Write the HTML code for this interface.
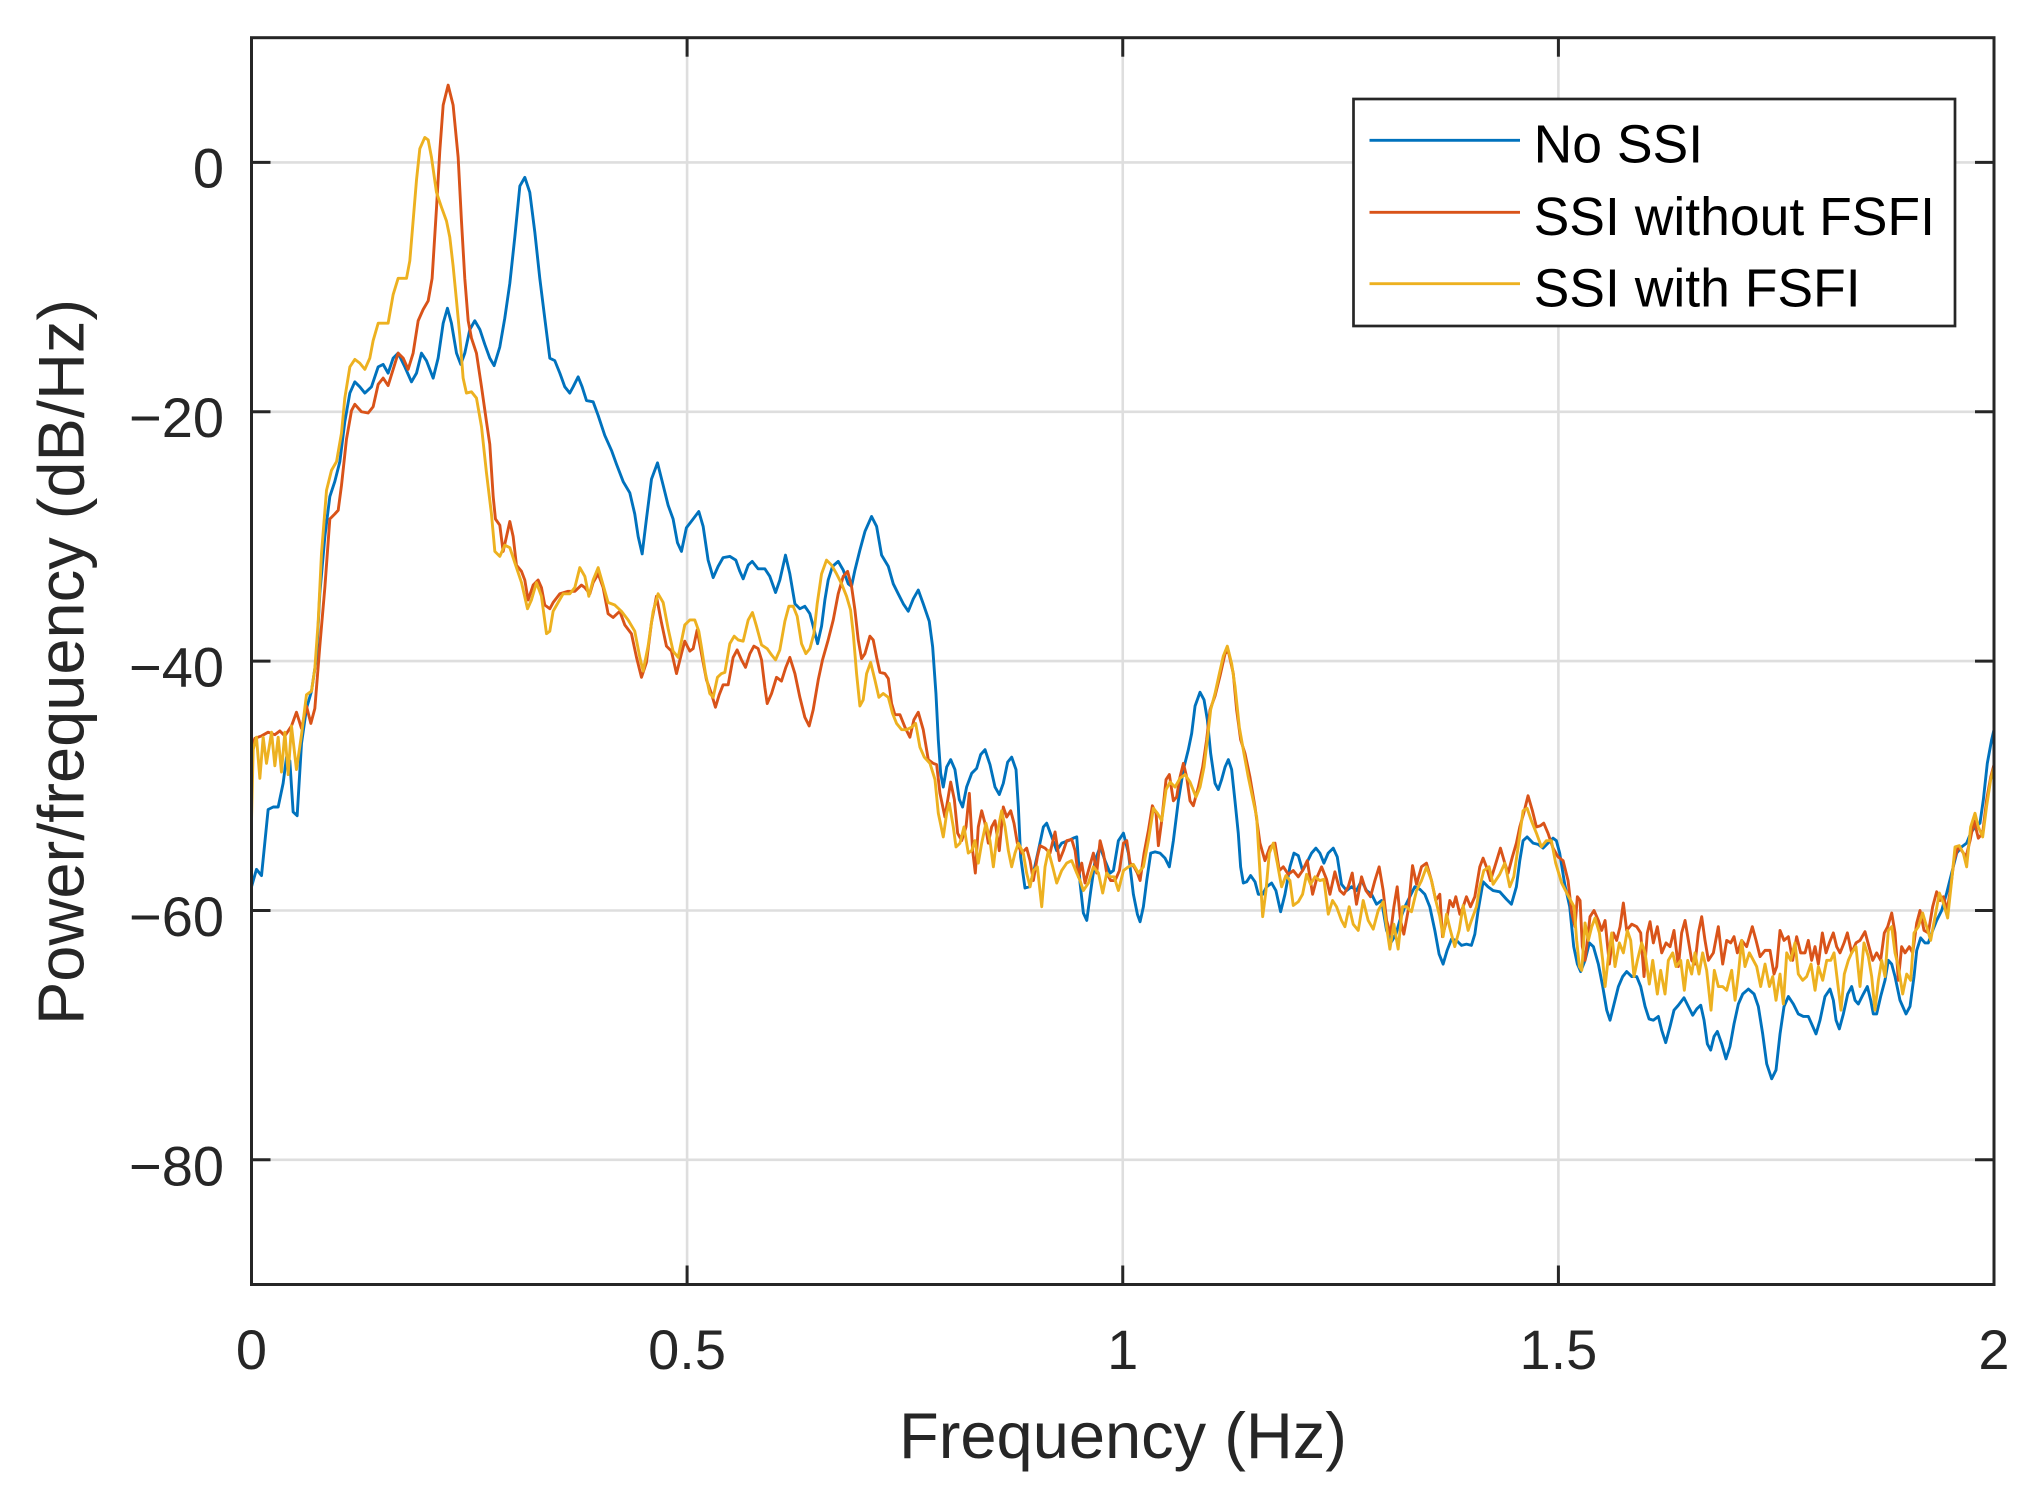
<!DOCTYPE html>
<html>
<head>
<meta charset="utf-8">
<style>
html,body{margin:0;padding:0;background:#fff;}
svg{display:block;}
text{font-family:"Liberation Sans",Arial,Helvetica,sans-serif;}
</style>
</head>
<body>
<svg width="2041" height="1503" viewBox="0 0 2041 1503" xmlns="http://www.w3.org/2000/svg">
<rect x="0" y="0" width="2041" height="1503" fill="#fff"/>
<defs>
<clipPath id="pa"><rect x="251.5" y="37.7" width="1742.5" height="1246.8"/></clipPath>
</defs>
<!-- grid -->
<g stroke="#dedede" stroke-width="2.6" fill="none">
<line x1="687.1" y1="37.7" x2="687.1" y2="1284.5"/>
<line x1="1122.75" y1="37.7" x2="1122.75" y2="1284.5"/>
<line x1="1558.4" y1="37.7" x2="1558.4" y2="1284.5"/>
<line x1="251.5" y1="162.4" x2="1994" y2="162.4"/>
<line x1="251.5" y1="411.8" x2="1994" y2="411.8"/>
<line x1="251.5" y1="661.1" x2="1994" y2="661.1"/>
<line x1="251.5" y1="910.5" x2="1994" y2="910.5"/>
<line x1="251.5" y1="1159.8" x2="1994" y2="1159.8"/>
</g>
<!-- data -->
<g clip-path="url(#pa)">
<g transform="matrix(871.25,0,0,-12.468,251.5,162.4)" fill="none" stroke-linejoin="round" stroke-linecap="round">
<polyline vector-effect="non-scaling-stroke" stroke="#0072BD" stroke-width="2.9" points="0,-58.1 .0057,-56.7 .0115,-57.2 .0191,-51.9 .0249,-51.7 .0306,-51.7 .0363,-49.8 .0402,-47.7 .044,-48 .0478,-52.1 .0524,-52.4 .0574,-46.6 .0631,-43.8 .0689,-42.4 .0746,-39.7 .0784,-34.6 .0842,-30 .0899,-26.8 .0956,-25.6 .1014,-24 .1071,-20.8 .1129,-18.5 .1186,-17.6 .1243,-18 .1301,-18.5 .1377,-18 .1454,-16.4 .1511,-16.2 .1568,-16.9 .1626,-15.7 .1683,-15.3 .176,-16.4 .1836,-17.6 .1894,-16.9 .1951,-15.3 .2008,-15.9 .2085,-17.3 .2142,-15.7 .22,-12.9 .2249,-11.7 .2295,-12.9 .2353,-15.3 .2402,-16.2 .2448,-15.3 .2506,-13.4 .2563,-12.7 .2621,-13.4 .2678,-14.6 .2735,-15.7 .2785,-16.3 .285,-14.8 .2907,-12.5 .2965,-9.7 .3022,-6 .308,-1.9 .3137,-1.2 .3194,-2.4 .3252,-5.6 .3309,-9.3 .3366,-12.5 .3424,-15.7 .3481,-15.9 .3539,-16.9 .3596,-18 .3653,-18.5 .3692,-18 .3749,-17.2 .3795,-18 .3845,-19.1 .3921,-19.2 .3979,-20.3 .4055,-21.9 .4132,-23.1 .4189,-24.2 .4266,-25.6 .4342,-26.5 .4399,-28.2 .4438,-30 .4484,-31.4 .4533,-28.6 .4591,-25.4 .466,-24.1 .4725,-25.9 .4782,-27.5 .4839,-28.6 .4889,-30.5 .4935,-31.2 .4992,-29.3 .5069,-28.6 .5134,-28 .5184,-29.2 .5241,-31.9 .5299,-33.3 .5356,-32.4 .5413,-31.7 .549,-31.6 .5559,-31.9 .5605,-32.8 .5643,-33.4 .5701,-32.3 .5747,-32 .5815,-32.6 .5892,-32.6 .5949,-33.2 .6015,-34.5 .6064,-33.5 .6129,-31.5 .6179,-33 .6237,-35.4 .6294,-35.8 .6351,-35.6 .6409,-36.2 .6447,-37.2 .6497,-38.6 .6543,-37.2 .6581,-35.1 .6619,-33.5 .6669,-32.4 .6734,-32 .6792,-32.7 .6849,-33.8 .6887,-34 .6926,-32.7 .6983,-31.1 .7041,-29.6 .7117,-28.4 .7175,-29.2 .7232,-31.5 .7309,-32.4 .7366,-33.8 .7423,-34.6 .7481,-35.4 .7538,-36 .7596,-35 .7653,-34.3 .771,-35.4 .7779,-36.8 .7818,-38.85 .7856,-42.6 .7883,-46.3 .791,-49 .794,-50.1 .7979,-48.5 .8025,-47.9 .8074,-48.7 .8124,-51.1 .8162,-51.7 .8208,-50.1 .8266,-49 .8323,-48.6 .8369,-47.5 .8419,-47.1 .8476,-48.3 .8534,-50.1 .8583,-50.7 .8629,-49.8 .8679,-48.1 .8725,-47.7 .8775,-48.7 .8802,-51.7 .8828,-55.7 .8878,-58.2 .8928,-58.1 .8974,-57 .9031,-55.2 .9089,-53.3 .9127,-53 .9185,-54.1 .9242,-55.2 .9299,-54.6 .9376,-54.4 .9433,-54.2 .9472,-54.1 .951,-57.8 .9548,-60.2 .9587,-60.8 .9633,-58.4 .9682,-56 .974,-54.9 .9797,-56 .9855,-57 .9893,-56.8 .995,-54.4 1.0008,-53.8 1.0065,-55.4 1.0122,-58.7 1.0168,-60.3 1.0199,-60.9 1.0237,-59.7 1.0275,-57.6 1.0321,-55.4 1.0371,-55.3 1.0428,-55.4 1.0485,-55.8 1.0535,-56.5 1.0581,-54.4 1.0638,-51.2 1.0696,-48.7 1.0753,-47.1 1.0791,-45.8 1.083,-43.6 1.0887,-42.5 1.0933,-43.1 1.0971,-44.7 1.1009,-47.4 1.1059,-49.8 1.1097,-50.3 1.1135,-49.5 1.1174,-48.5 1.1212,-47.9 1.125,-48.7 1.1288,-51.2 1.1326,-53.8 1.1353,-56.5 1.1384,-57.8 1.1422,-57.7 1.1468,-57.2 1.1518,-57.7 1.1556,-58.7 1.1606,-58.7 1.1651,-58.1 1.1709,-57.8 1.1758,-58.4 1.1812,-60.1 1.1862,-58.7 1.1919,-56.5 1.1965,-55.4 1.2015,-55.6 1.2064,-56.8 1.211,-56.2 1.2167,-55.4 1.2217,-55 1.2263,-55.4 1.2309,-56.2 1.2358,-55.4 1.2416,-55 1.2462,-55.7 1.2511,-57.9 1.2569,-58.4 1.2626,-58.1 1.2683,-58.4 1.2741,-57.6 1.2798,-58.4 1.2856,-58.7 1.2913,-59.5 1.297,-59.2 1.3028,-61.6 1.3085,-62.5 1.3135,-61.9 1.318,-60.8 1.3238,-59.7 1.3295,-58.9 1.3352,-58.1 1.341,-58.3 1.3467,-58.7 1.3524,-59.7 1.3582,-61.6 1.3631,-63.5 1.3677,-64.3 1.3723,-63.2 1.3773,-62.3 1.383,-62.4 1.3888,-62.8 1.3945,-62.7 1.4002,-62.8 1.4041,-61.9 1.4079,-60 1.4136,-57.7 1.4193,-58.1 1.4251,-58.4 1.4327,-58.5 1.4404,-59.1 1.4461,-59.5 1.4518,-58.1 1.4557,-56 1.4595,-54.4 1.4641,-54.1 1.471,-54.6 1.4767,-54.7 1.4824,-55 1.4881,-54.6 1.4939,-54.2 1.4977,-54.4 1.5015,-55.4 1.5073,-57.9 1.513,-59.7 1.5176,-62.9 1.5218,-64.3 1.5256,-64.9 1.5306,-64 1.5356,-62.6 1.5402,-62.9 1.5459,-64.3 1.5509,-66.1 1.5555,-68 1.5593,-68.8 1.5639,-67.5 1.5689,-66.1 1.5738,-65.3 1.5784,-64.9 1.5842,-65.3 1.5899,-65.3 1.5945,-66.1 1.5995,-67.7 1.6041,-68.7 1.609,-68.8 1.6148,-68.5 1.6186,-69.6 1.6232,-70.6 1.6282,-69.3 1.6327,-68 1.6377,-67.6 1.6442,-67 1.6492,-67.7 1.6542,-68.4 1.6588,-67.9 1.6634,-67.6 1.6672,-68.8 1.671,-70.7 1.6748,-71.2 1.6787,-70.1 1.6825,-69.7 1.6875,-70.7 1.6924,-71.9 1.697,-70.9 1.7016,-69.1 1.7066,-67.5 1.7116,-66.7 1.7181,-66.3 1.7246,-66.7 1.7295,-67.7 1.7345,-69.9 1.7391,-72.3 1.7448,-73.5 1.7498,-72.8 1.7544,-69.9 1.759,-67.7 1.764,-66.9 1.7697,-67.5 1.7754,-68.3 1.7812,-68.5 1.7869,-68.5 1.7907,-69.1 1.7957,-69.9 1.8003,-68.8 1.806,-66.9 1.8118,-66.3 1.8156,-67.2 1.8187,-68.8 1.8225,-69.5 1.8271,-68.3 1.8321,-66.7 1.8366,-66.1 1.8405,-67.2 1.8443,-67.5 1.85,-66.7 1.8546,-66.1 1.8585,-67.2 1.8615,-68.3 1.8653,-68.3 1.8699,-66.9 1.8749,-65.6 1.8787,-64 1.8826,-64.3 1.8864,-65.3 1.8921,-67.2 1.899,-68.3 1.9036,-67.7 1.9082,-65.3 1.9113,-63.2 1.9158,-62.2 1.9208,-62.6 1.9246,-62.6 1.9285,-61.8 1.9342,-60.8 1.9399,-60 1.9457,-58.6 1.9514,-57 1.9572,-55.4 1.9629,-54.9 1.9686,-54.6 1.9732,-53.8 1.9782,-53.3 1.9839,-53 1.9878,-51.1 1.9923,-48.2 1.9973,-46.3 2,-45.5"/>
<polyline vector-effect="non-scaling-stroke" stroke="#D95319" stroke-width="2.9" points="0,-47.1 .0038,-46.2 .0115,-46 .0191,-45.7 .0268,-45.9 .0325,-45.6 .0383,-46 .0459,-45.2 .0516,-44.1 .0574,-45.4 .0631,-43.6 .0681,-45 .0727,-43.8 .0784,-38.8 .0842,-34.1 .0899,-28.6 .0956,-28.2 .0995,-27.9 .1033,-25.9 .109,-22.2 .1148,-19.9 .1186,-19.4 .1262,-20 .1339,-20.1 .1396,-19.6 .1454,-17.8 .1511,-17.3 .1568,-17.9 .1626,-16.6 .1683,-15.3 .1741,-15.7 .1798,-16.6 .1855,-15.3 .1913,-12.7 .197,-11.8 .2028,-11.1 .2073,-9.3 .2123,-3.7 .2161,.9 .22,4.6 .2257,6.2 .2314,4.6 .2372,.4 .241,-4.7 .2448,-9.3 .2487,-12.7 .2525,-14.1 .2582,-15.3 .264,-18 .2697,-20.8 .2735,-22.6 .2774,-26.8 .28,-28.6 .285,-29.1 .2888,-31.2 .2927,-30 .2965,-28.8 .3003,-30 .3041,-32.3 .3099,-32.8 .3137,-33.5 .3175,-35.1 .3233,-33.9 .329,-33.5 .3328,-34.1 .3366,-35.5 .3424,-35.8 .3462,-35.3 .3539,-34.6 .3634,-34.4 .3711,-34.4 .3787,-33.9 .3826,-34.1 .3883,-34.6 .3921,-33.7 .3979,-33 .4036,-34.1 .4093,-36.2 .4151,-36.5 .4227,-36 .4285,-37.1 .4361,-37.8 .4419,-39.7 .4476,-41.3 .4533,-40.1 .4591,-36.9 .4648,-34.8 .4705,-36.9 .4763,-38.8 .482,-39.2 .4878,-41 .4935,-39.4 .4973,-38.4 .5031,-39.2 .5069,-39 .5115,-37.5 .5165,-39.4 .5222,-41.5 .5279,-42.6 .5325,-43.7 .5368,-42.7 .5413,-41.9 .5471,-41.9 .5528,-39.7 .5574,-39.1 .5624,-39.9 .567,-40.5 .572,-39.4 .5766,-38.8 .5815,-39 .5854,-39.9 .5892,-42.1 .5919,-43.4 .5969,-42.6 .6026,-41.3 .6083,-41.6 .6133,-40.5 .6179,-39.7 .6237,-41 .6294,-42.9 .6351,-44.5 .6401,-45.2 .6447,-43.9 .6505,-41.5 .6554,-39.9 .6619,-38.3 .6677,-36.7 .6734,-34.6 .6792,-33.2 .6842,-32.8 .6887,-34 .6926,-35.9 .6964,-38.3 .7002,-39.8 .7041,-39.4 .7098,-38 .7136,-38.3 .7175,-39.7 .7213,-40.9 .727,-41 .7309,-41.4 .7347,-43.4 .7385,-44.3 .7443,-44.3 .75,-45.3 .7557,-46.1 .7603,-44.7 .7653,-44.1 .771,-45.5 .7768,-47.9 .7825,-48.2 .7864,-48.3 .7902,-50.6 .7959,-52.5 .8025,-49.7 .8067,-51.1 .8105,-53.8 .8151,-54.4 .8201,-53.3 .8239,-50.6 .8277,-55.2 .8308,-57 .8342,-53.3 .8381,-52 .8419,-53 .8457,-54.6 .8495,-53.3 .8534,-52.8 .8583,-55.2 .8629,-51.7 .8668,-52.5 .8714,-52 .8752,-53 .879,-54.6 .884,-55.4 .8897,-55 .8936,-56 .8974,-57.6 .902,-55.7 .9051,-54.8 .9108,-55 .9165,-55.4 .9223,-53.7 .9273,-56 .9319,-55.2 .9357,-54.4 .9414,-54.3 .9453,-55.2 .9491,-57.3 .9529,-56.2 .9567,-57.8 .9606,-56.8 .9663,-55.4 .9701,-57 .974,-54.4 .9778,-55.4 .9816,-57 .9862,-57.6 .9912,-57.6 .9962,-56.8 1.0008,-54.6 1.0046,-54.4 1.0084,-56.2 1.013,-56.5 1.0168,-57 1.0199,-57.6 1.0245,-55.4 1.0294,-53.6 1.034,-51.6 1.0382,-52.2 1.0409,-54.8 1.0447,-52.8 1.0497,-49.5 1.0535,-49.1 1.0581,-51.2 1.0619,-50.9 1.065,-49.5 1.0696,-48.2 1.0734,-49.3 1.0772,-51.2 1.081,-51.6 1.0868,-50.1 1.0917,-48.5 1.0963,-46.3 1.1002,-43.9 1.1059,-42.8 1.1116,-41.2 1.1174,-39.4 1.1212,-39.2 1.1269,-41 1.1307,-43.9 1.1353,-46.3 1.1403,-47.4 1.146,-49.3 1.1518,-51.7 1.1575,-54.6 1.1632,-56 1.169,-54.9 1.1747,-54.6 1.1797,-56.8 1.1843,-56.5 1.19,-57.1 1.1957,-56.8 1.2015,-57.3 1.2064,-56.8 1.2118,-56 1.2179,-58.7 1.2232,-57.3 1.2282,-56.5 1.2339,-57.5 1.2378,-58.7 1.2435,-56.9 1.2492,-58.4 1.2538,-58.7 1.2588,-58.1 1.2634,-57 1.2683,-59.5 1.2741,-57.3 1.2791,-58.4 1.2844,-58.9 1.2894,-57.6 1.2943,-56.5 1.2989,-58.4 1.3028,-60.8 1.3073,-61.9 1.3112,-59.7 1.315,-58.1 1.3188,-60.8 1.3226,-61.9 1.3276,-60 1.3326,-56.4 1.3372,-57.9 1.3429,-56.5 1.3486,-56.2 1.3544,-57.6 1.3593,-59.2 1.3639,-58.7 1.367,-62.1 1.3716,-60.8 1.3754,-59.2 1.3792,-59.7 1.3823,-58.9 1.3869,-60.3 1.3907,-59.7 1.3945,-58.9 1.3991,-59.7 1.4041,-58.9 1.4098,-56.5 1.4136,-55.8 1.4174,-56.5 1.422,-57.6 1.427,-56.5 1.4335,-55 1.4385,-56.2 1.4423,-57 1.4472,-55.7 1.4518,-54.6 1.4557,-53.3 1.4602,-52.2 1.4652,-50.8 1.4702,-52 1.4748,-53.3 1.4794,-53.2 1.4832,-53 1.4881,-53.8 1.4939,-55 1.4996,-55.7 1.5054,-56 1.5111,-57.6 1.5153,-60.2 1.5191,-61.3 1.5218,-58.9 1.5249,-59.2 1.5275,-62.9 1.5306,-64 1.5333,-62.4 1.5363,-60.5 1.5409,-60 1.5459,-60.8 1.5497,-61.6 1.5536,-60.8 1.5585,-64.3 1.5631,-61.8 1.5669,-62.4 1.5708,-61.3 1.5746,-59.4 1.5784,-61.6 1.5842,-61.1 1.5899,-61.3 1.5945,-61.8 1.5983,-65.3 1.6021,-61.8 1.6052,-60.9 1.609,-62.6 1.6136,-61.3 1.6186,-63.4 1.6236,-62.6 1.6282,-62.9 1.6327,-61.6 1.6377,-64.5 1.6415,-61.8 1.6454,-60.8 1.6492,-62.4 1.653,-64 1.6568,-64.3 1.6607,-61.8 1.6645,-60.5 1.6683,-62.4 1.6722,-64 1.6779,-63.4 1.6836,-61.3 1.6886,-64.3 1.6932,-62.4 1.6978,-62.6 1.7016,-62.1 1.7054,-63.4 1.7104,-62.4 1.7161,-62.9 1.7226,-61.3 1.7269,-62.4 1.7315,-63.7 1.7372,-63.2 1.7429,-63.2 1.7475,-65.1 1.7506,-64.5 1.7544,-61.6 1.759,-62.4 1.764,-62.1 1.7689,-64 1.7735,-62.1 1.7781,-63.4 1.7831,-63.4 1.7869,-62.4 1.7907,-64 1.7946,-62.9 1.7984,-64.3 1.803,-61.8 1.8072,-63.4 1.811,-62.6 1.8156,-61.8 1.8194,-62.9 1.8233,-63.4 1.8279,-62.6 1.8317,-61.8 1.8366,-63.4 1.8416,-62.6 1.8462,-62.4 1.8519,-61.7 1.8565,-62.9 1.8608,-64 1.8653,-63.4 1.8699,-64 1.8741,-61.8 1.878,-61.3 1.8826,-60.2 1.8864,-61.8 1.8902,-65.6 1.894,-62.9 1.8979,-63.4 1.9028,-62.9 1.9067,-63.4 1.9113,-61 1.9151,-60 1.9197,-61.6 1.9246,-61.8 1.9296,-59.7 1.9342,-58.5 1.938,-59.2 1.9419,-58.9 1.9464,-60 1.9503,-58.1 1.9541,-56 1.9591,-54.9 1.9629,-55.2 1.9679,-55.7 1.9725,-54.4 1.9771,-52.8 1.982,-54.2 1.987,-53.8 1.9916,-51.1 1.9962,-49.3 2,-48.3"/>
<polyline vector-effect="non-scaling-stroke" stroke="#EDB120" stroke-width="2.9" points="0,-52.8 .0019,-47.1 .0057,-46.1 .0096,-49.4 .0134,-46.1 .0172,-48.2 .023,-45.7 .0268,-48.4 .0306,-46.1 .0344,-48.9 .0383,-45.7 .0421,-49.1 .0459,-45.2 .0516,-48.7 .0574,-45.9 .0631,-42.7 .0689,-42.4 .0727,-40.6 .0765,-36.9 .0803,-31.4 .0861,-26.3 .0918,-24.7 .0976,-24 .1033,-21.7 .1071,-18.9 .1129,-16.4 .1186,-15.8 .1243,-16.1 .1301,-16.6 .1358,-15.7 .1396,-14.3 .1454,-12.9 .1511,-12.9 .1568,-12.9 .1626,-10.6 .1683,-9.3 .1741,-9.3 .1779,-9.3 .1817,-7.9 .1855,-4.7 .1894,-1.4 .1932,1.1 .1989,2 .2028,1.8 .2066,.4 .2123,-2.4 .2181,-3.6 .2238,-4.7 .2276,-6 .2314,-8.3 .2353,-11.1 .2391,-13.9 .2429,-17.3 .2467,-18.5 .2525,-18.4 .2582,-18.9 .264,-21.2 .2697,-24.9 .2754,-28.2 .2793,-31.2 .285,-31.6 .2907,-30.7 .2965,-30.9 .3022,-32.1 .3099,-33.7 .3168,-35.8 .3213,-35.1 .3271,-33.7 .3328,-34.8 .3386,-37.8 .3424,-37.6 .3462,-36 .3519,-35.3 .3577,-34.6 .3653,-34.6 .3711,-34.1 .3768,-32.5 .3826,-33.2 .3872,-34.8 .3921,-33.5 .3979,-32.5 .4036,-33.9 .4093,-35.3 .417,-35.5 .4246,-36 .4323,-36.7 .4399,-37.6 .4457,-39.7 .4495,-40.8 .4552,-38.8 .461,-36 .4667,-34.6 .4725,-35.3 .4782,-37.4 .4839,-39.2 .4897,-39.7 .4973,-37.1 .5031,-36.7 .5088,-36.7 .5134,-37.6 .5165,-38.9 .5211,-41 .526,-42.6 .5299,-42.9 .5348,-41.3 .5394,-41 .5433,-40.9 .549,-38.6 .554,-38 .5586,-38.3 .5643,-38.4 .5701,-36.7 .575,-36.1 .5796,-37.2 .5854,-38.7 .5919,-39 .5969,-39.5 .6015,-39.9 .6064,-39.1 .6122,-36.8 .6168,-35.6 .6217,-35.6 .6263,-36.4 .6313,-38.6 .6363,-39.4 .6409,-39 .6455,-37.8 .6493,-35.4 .6543,-33 .66,-31.9 .6658,-32.3 .6715,-33 .6773,-33.8 .683,-34.8 .6876,-35.9 .6907,-37.8 .6945,-41 .6983,-43.6 .7021,-43.1 .706,-41 .7106,-40.1 .7155,-41.5 .7201,-42.9 .7251,-42.6 .7309,-42.9 .7358,-44.2 .7404,-45 .7462,-45.5 .7519,-45.5 .7577,-45.3 .7623,-45 .7672,-46.9 .7722,-47.7 .7787,-48.2 .7845,-49.5 .7883,-52.2 .794,-54.1 .7979,-52.2 .8009,-51.4 .8055,-53.3 .8086,-54.9 .8132,-54.6 .8178,-53.3 .8227,-55.4 .8266,-55.2 .8304,-54.4 .8342,-56.2 .8381,-54.6 .843,-53 .8476,-54.4 .8515,-56.5 .856,-53.8 .861,-52 .8649,-53.3 .8687,-55.2 .8725,-56.5 .8763,-55.4 .8802,-54.6 .8859,-55.4 .8897,-57 .8936,-58.1 .8974,-56.8 .902,-56.5 .907,-59.7 .9108,-56.5 .9146,-55.2 .9196,-56.5 .9242,-57.8 .9299,-56.8 .9357,-56.2 .9414,-56 .9472,-57 .951,-57.6 .9548,-58.4 .9606,-57.8 .9663,-56.5 .9721,-57 .977,-58.6 .9816,-57 .9855,-57.3 .9901,-57.3 .995,-58.4 1.0008,-56.8 1.0065,-56.5 1.0122,-56.3 1.018,-57 1.0237,-56.5 1.0294,-54.4 1.0352,-51.8 1.0398,-52.2 1.0447,-52.8 1.0497,-50.3 1.0543,-49.7 1.06,-50.1 1.0657,-49.4 1.0715,-49.1 1.0772,-49.7 1.0841,-50.9 1.0887,-50.1 1.0933,-48.5 1.0971,-46.3 1.1009,-43.9 1.1059,-42.6 1.1109,-41 1.1154,-39.6 1.12,-38.8 1.125,-40.2 1.1288,-42 1.1338,-45.3 1.1391,-47.4 1.1441,-49.3 1.1498,-51.2 1.1537,-52.5 1.1567,-56 1.1606,-60.5 1.1644,-58.4 1.1682,-55.4 1.1728,-54.6 1.1774,-56.2 1.1823,-58.1 1.1873,-57.2 1.1919,-57.6 1.1957,-59.6 1.2015,-59.3 1.2064,-58.7 1.211,-57.1 1.2156,-57.9 1.2206,-57.3 1.2263,-57.6 1.2309,-57.5 1.2359,-60.3 1.2408,-59.2 1.2454,-59.7 1.2511,-60.8 1.255,-61.3 1.2599,-59.7 1.2645,-61.1 1.2703,-61.6 1.276,-59.2 1.2817,-60.8 1.2875,-61.5 1.2932,-60 1.2989,-59.3 1.3028,-61.3 1.3066,-63.1 1.3112,-61.1 1.3161,-63.1 1.3211,-59.7 1.3257,-59.7 1.3314,-60.1 1.3372,-58.4 1.3429,-57.6 1.3486,-56.5 1.3544,-57.6 1.3593,-59.2 1.3639,-60.5 1.3677,-62.1 1.3716,-60.3 1.3761,-61.6 1.3811,-62.9 1.3861,-61.6 1.3907,-59.6 1.3964,-61.6 1.4002,-60.8 1.406,-59.7 1.4098,-58.1 1.4144,-56.8 1.4205,-56.5 1.4251,-57.9 1.4327,-57.1 1.4385,-56.2 1.4442,-58.1 1.4488,-57.3 1.4538,-54.9 1.4595,-52 1.4641,-51.8 1.469,-52.8 1.4748,-53.8 1.4805,-54.9 1.4862,-54.4 1.492,-54.4 1.4969,-56.2 1.5038,-57.8 1.5096,-58.6 1.5142,-59.2 1.518,-59.7 1.521,-62.4 1.5241,-64.5 1.5268,-64.8 1.5306,-61 1.5344,-62.4 1.5383,-61.3 1.5421,-60.6 1.5471,-61.8 1.5509,-64 1.5536,-66.1 1.5574,-63.7 1.5612,-61.8 1.565,-64.5 1.57,-62.6 1.5746,-63.4 1.5792,-61.6 1.583,-62.4 1.5868,-65.3 1.5907,-64 1.5956,-62.6 1.5995,-63.4 1.6044,-65.9 1.6083,-64 1.6136,-66.7 1.6174,-64.8 1.6224,-66.7 1.6262,-64 1.6312,-63.4 1.635,-64.5 1.6404,-64 1.6446,-66.4 1.6484,-64 1.653,-65.1 1.6568,-63.4 1.6614,-65.1 1.6656,-63.4 1.6702,-64.8 1.6752,-68 1.679,-64.8 1.6836,-66.1 1.6886,-66.1 1.6932,-66.4 1.6989,-64.8 1.7028,-67.2 1.7066,-65.1 1.7104,-62.4 1.7142,-64.5 1.7192,-63.4 1.7238,-64 1.7276,-64.5 1.7322,-66.1 1.7372,-64.3 1.7422,-66.1 1.746,-65.3 1.7498,-67.2 1.7544,-65.1 1.7582,-67.5 1.7621,-63.4 1.7666,-64 1.7716,-62.6 1.7754,-65.1 1.7804,-65.6 1.785,-65.3 1.79,-64.3 1.7946,-66.4 1.7984,-64.5 1.8034,-65.6 1.808,-64 1.8126,-64 1.8164,-63.4 1.8202,-65.6 1.8244,-68 1.8282,-65.1 1.8328,-64 1.8366,-63.4 1.8416,-62.9 1.8462,-66.1 1.8508,-62.6 1.8558,-63.7 1.8596,-65.3 1.8634,-68 1.8673,-65.6 1.8711,-64 1.8749,-65.3 1.8787,-61.6 1.8826,-61.3 1.8864,-63.4 1.8902,-64.5 1.8952,-66.7 1.8998,-65.1 1.9044,-65.6 1.9082,-61.8 1.9132,-61.3 1.9181,-60.2 1.9227,-61.3 1.9273,-62.4 1.9323,-60.5 1.9373,-58.6 1.9419,-59.4 1.9468,-60.6 1.9514,-57.6 1.9553,-54.9 1.9602,-54.8 1.9648,-55.4 1.9686,-56.5 1.9732,-53.3 1.9782,-52.2 1.982,-53.3 1.987,-54.1 1.9916,-51.6 1.9962,-49.5 2,-48.5"/>
</g>
</g>
<!-- axes box -->
<rect x="251.5" y="37.7" width="1742.5" height="1246.8" fill="none" stroke="#262626" stroke-width="3"/>
<!-- ticks -->
<g stroke="#262626" stroke-width="3">
<line x1="251.5" y1="162.4" x2="270.5" y2="162.4"/>
<line x1="251.5" y1="411.8" x2="270.5" y2="411.8"/>
<line x1="251.5" y1="661.1" x2="270.5" y2="661.1"/>
<line x1="251.5" y1="910.5" x2="270.5" y2="910.5"/>
<line x1="251.5" y1="1159.8" x2="270.5" y2="1159.8"/>
<line x1="1994" y1="162.4" x2="1975" y2="162.4"/>
<line x1="1994" y1="411.8" x2="1975" y2="411.8"/>
<line x1="1994" y1="661.1" x2="1975" y2="661.1"/>
<line x1="1994" y1="910.5" x2="1975" y2="910.5"/>
<line x1="1994" y1="1159.8" x2="1975" y2="1159.8"/>
<line x1="687.1" y1="1284.5" x2="687.1" y2="1265.5"/>
<line x1="1122.75" y1="1284.5" x2="1122.75" y2="1265.5"/>
<line x1="1558.4" y1="1284.5" x2="1558.4" y2="1265.5"/>
<line x1="687.1" y1="37.7" x2="687.1" y2="56.7"/>
<line x1="1122.75" y1="37.7" x2="1122.75" y2="56.7"/>
<line x1="1558.4" y1="37.7" x2="1558.4" y2="56.7"/>
</g>
<!-- tick labels -->
<g font-size="56" fill="#262626" text-anchor="middle">
<text x="251.5" y="1369">0</text>
<text x="687.1" y="1369">0.5</text>
<text x="1122.75" y="1369">1</text>
<text x="1558.4" y="1369">1.5</text>
<text x="1994" y="1369">2</text>
</g>
<g font-size="56" fill="#262626" text-anchor="end">
<text x="224" y="187.5">0</text>
<text x="224" y="437">−20</text>
<text x="224" y="686.5">−40</text>
<text x="224" y="936">−60</text>
<text x="224" y="1185.5">−80</text>
</g>
<!-- axis labels -->
<text x="1123" y="1458" font-size="65" fill="#262626" text-anchor="middle">Frequency (Hz)</text>
<text transform="translate(83.5,662) rotate(-90)" font-size="65" fill="#262626" text-anchor="middle">Power/frequency (dB/Hz)</text>
<!-- legend -->
<rect x="1353.5" y="99" width="601.5" height="227" fill="#fff" stroke="#262626" stroke-width="2.7"/>
<line x1="1369.5" y1="140.3" x2="1520" y2="140.3" stroke="#0072BD" stroke-width="2.8"/>
<line x1="1369.5" y1="212.3" x2="1520" y2="212.3" stroke="#D95319" stroke-width="2.8"/>
<line x1="1369.5" y1="283.7" x2="1520" y2="283.7" stroke="#EDB120" stroke-width="2.8"/>
<g font-size="53.5" fill="#000">
<text x="1533.6" y="162.7">No SSI</text>
<text x="1533.6" y="235">SSI without FSFI</text>
<text x="1533.6" y="306.7">SSI with FSFI</text>
</g>
</svg>
</body>
</html>
